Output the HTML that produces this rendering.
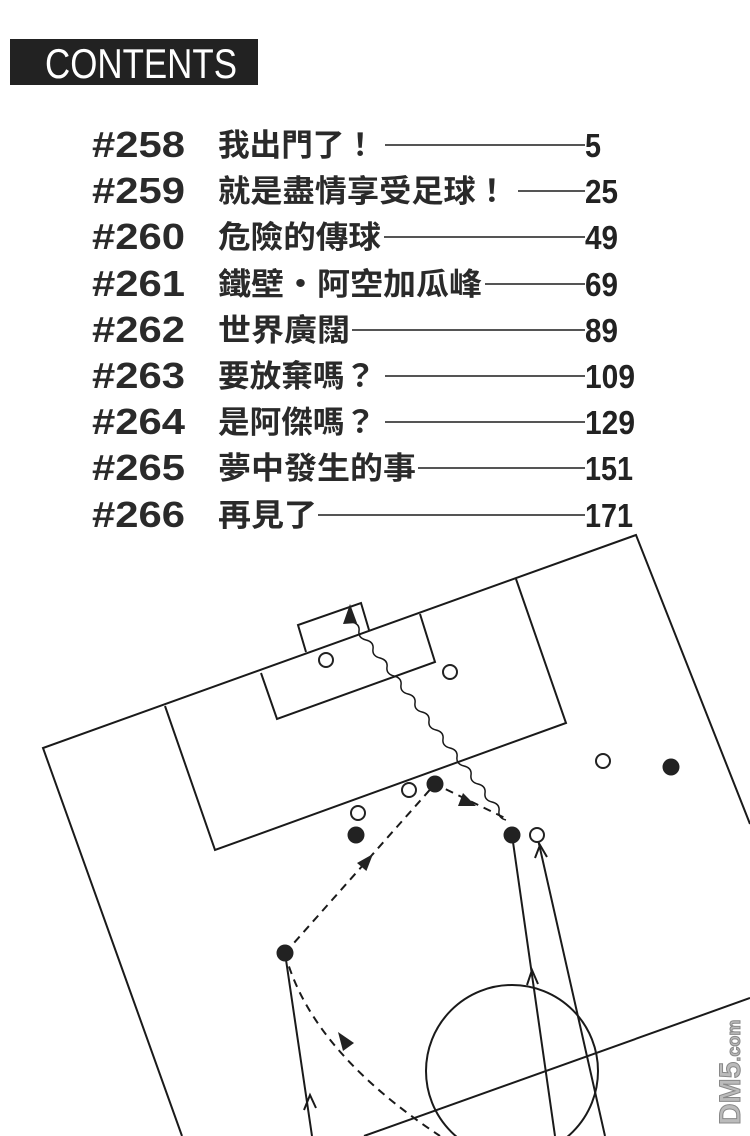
<!DOCTYPE html>
<html><head><meta charset="utf-8"><style>
html,body{margin:0;padding:0;background:#fff;}
svg{display:block}
</style></head><body>
<svg width="750" height="1136" viewBox="0 0 750 1136" xmlns="http://www.w3.org/2000/svg">
<rect width="750" height="1136" fill="#fff"/>
<rect x="10" y="39" width="248" height="46" fill="#222"/>
<text x="45" y="78" font-family="Liberation Sans, sans-serif" font-size="42" fill="#fff" textLength="192" lengthAdjust="spacingAndGlyphs">CONTENTS</text>
<g font-family="Liberation Sans, 'Noto Sans CJK TC', sans-serif" fill="#2a2a2a" font-weight="bold">
<g font-size="36">
<text x="92" y="157" textLength="93" lengthAdjust="spacingAndGlyphs">#258</text>
<text x="92" y="203" textLength="93" lengthAdjust="spacingAndGlyphs">#259</text>
<text x="92" y="249" textLength="93" lengthAdjust="spacingAndGlyphs">#260</text>
<text x="92" y="296" textLength="93" lengthAdjust="spacingAndGlyphs">#261</text>
<text x="92" y="342" textLength="93" lengthAdjust="spacingAndGlyphs">#262</text>
<text x="92" y="388" textLength="93" lengthAdjust="spacingAndGlyphs">#263</text>
<text x="92" y="434" textLength="93" lengthAdjust="spacingAndGlyphs">#264</text>
<text x="92" y="480" textLength="93" lengthAdjust="spacingAndGlyphs">#265</text>
<text x="92" y="527" textLength="93" lengthAdjust="spacingAndGlyphs">#266</text>
</g>
<g font-size="31" font-family="'Noto Sans CJK TC', sans-serif" font-weight="bold">
<text x="218" y="156" textLength="158" lengthAdjust="spacingAndGlyphs">我出門了！</text>
<text x="218" y="202" textLength="290" lengthAdjust="spacingAndGlyphs">就是盡情享受足球！</text>
<text x="218" y="248" textLength="163" lengthAdjust="spacingAndGlyphs">危險的傳球</text>
<text x="218" y="295" textLength="264" lengthAdjust="spacingAndGlyphs">鐵壁・阿空加瓜峰</text>
<text x="218" y="341" textLength="132" lengthAdjust="spacingAndGlyphs">世界廣闊</text>
<text x="218" y="387" textLength="158" lengthAdjust="spacingAndGlyphs">要放棄嗎？</text>
<text x="218" y="433" textLength="158" lengthAdjust="spacingAndGlyphs">是阿傑嗎？</text>
<text x="218" y="479" textLength="198" lengthAdjust="spacingAndGlyphs">夢中發生的事</text>
<text x="218" y="526" textLength="99" lengthAdjust="spacingAndGlyphs">再見了</text>
</g>
<g font-size="33" font-weight="bold" fill="#222">
<text x="585" y="157" textLength="16" lengthAdjust="spacingAndGlyphs">5</text>
<text x="585" y="203" textLength="33" lengthAdjust="spacingAndGlyphs">25</text>
<text x="585" y="249" textLength="33" lengthAdjust="spacingAndGlyphs">49</text>
<text x="585" y="296" textLength="33" lengthAdjust="spacingAndGlyphs">69</text>
<text x="585" y="342" textLength="33" lengthAdjust="spacingAndGlyphs">89</text>
<text x="585" y="388" textLength="50" lengthAdjust="spacingAndGlyphs">109</text>
<text x="585" y="434" textLength="50" lengthAdjust="spacingAndGlyphs">129</text>
<text x="585" y="480" textLength="48" lengthAdjust="spacingAndGlyphs">151</text>
<text x="585" y="527" textLength="48" lengthAdjust="spacingAndGlyphs">171</text>
</g>
</g>
<g stroke="#555" stroke-width="2">
<line x1="385" y1="145" x2="585" y2="145"/>
<line x1="518" y1="191" x2="585" y2="191"/>
<line x1="384" y1="237" x2="585" y2="237"/>
<line x1="485" y1="284" x2="585" y2="284"/>
<line x1="352" y1="330" x2="585" y2="330"/>
<line x1="385" y1="376" x2="585" y2="376"/>
<line x1="385" y1="422" x2="585" y2="422"/>
<line x1="418" y1="468" x2="585" y2="468"/>
<line x1="318" y1="515" x2="585" y2="515"/>
</g>
<g fill="none" stroke="#1a1a1a" stroke-width="2">
<polyline points="182,1136 43,748 636,535 750,824"/>
<polyline points="165,706 215,850 566,723 516,579"/>
<polyline points="261,673 277,719 435,662 420,614"/>
<polyline points="306,652 298,625 361,603 369,630"/>
<line x1="364" y1="1136" x2="750" y2="998"/>
<circle cx="512" cy="1071" r="86"/>
<path d="M352,622 q8,2 7,9 t7,9 t7,9 t7,9 t7,9 t7,9 t7,9 t7,9 t7,9 t7,9 t7,9 t7,9 t7,9 t7,9 t7,9 t7,9 t7,9 t7,9 t7,9 t7,9 t7,9 t7,9" stroke-width="1.5"/>
<path d="M285,953 L435,784 L505,818" stroke-dasharray="8,6"/>
<path d="M285,953 Q310,1050 440,1136" stroke-dasharray="8,6"/>
<line x1="285" y1="953" x2="312" y2="1136"/>
<line x1="512" y1="835" x2="555" y2="1136"/>
<line x1="537" y1="835" x2="605" y2="1136"/>
<polyline points="304,1110 310,1095 316,1108"/>
<polyline points="527,985 532,970 538,984"/>
<polyline points="535,858 540,845 547,857"/>
</g>
<g fill="#222">
<polygon points="350,604 343,624 357,623"/>
<polygon points="373,854 366.4,871 357,863"/>
<polygon points="476,806 458,806 463,793"/>
<polygon points="338,1032 354,1043 343,1051"/>
<circle cx="435" cy="784" r="8.5"/>
<circle cx="356" cy="835" r="8.5"/>
<circle cx="512" cy="835" r="8.5"/>
<circle cx="285" cy="953" r="8.5"/>
<circle cx="671" cy="767" r="8.5"/>
</g>
<g fill="#fff" stroke="#222" stroke-width="2">
<circle cx="326" cy="660" r="7"/>
<circle cx="450" cy="672" r="7"/>
<circle cx="409" cy="790" r="7"/>
<circle cx="358" cy="813" r="7"/>
<circle cx="603" cy="761" r="7"/>
<circle cx="537" cy="835" r="7"/>
</g>
<text transform="translate(740,1125) rotate(-90)" font-family="Liberation Sans, sans-serif" font-size="30" font-weight="bold" fill="#bbb" stroke="#888" stroke-width="1">DM5<tspan font-size="18">.com</tspan></text>
</svg>
</body></html>
